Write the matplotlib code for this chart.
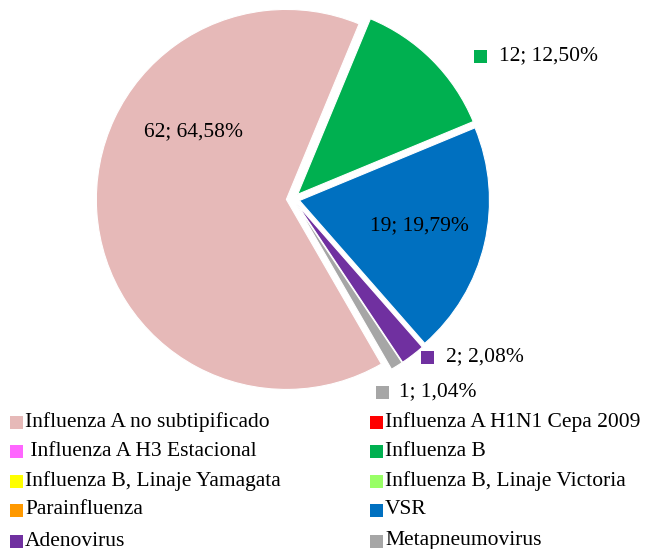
import matplotlib
matplotlib.use("Agg")
import matplotlib.pyplot as plt
from matplotlib.patches import Rectangle
from matplotlib.font_manager import FontProperties

categories = ["Influenza A no subtipificado", "Influenza A H1N1 Cepa 2009",
              " Influenza A H3 Estacional", "Influenza B",
              "Influenza B, Linaje Yamagata", "Influenza B, Linaje Victoria",
              "Parainfluenza", "VSR", "Adenovirus", "Metapneumovirus"]
values = [62, 0, 0, 12, 0, 0, 0, 19, 2, 1]
percent_labels = ["62; 64,58%", "", "", "12; 12,50%", "", "", "", "19; 19,79%", "2; 2,08%", "1; 1,04%"]
colors = ["#E6B9B8", "#FF0000", "#FF66FF", "#00B050", "#FFFF00",
          "#99FF66", "#FF9900", "#0070C0", "#7030A0", "#A6A6A6"]

W, H = 646, 549
fp_lab = FontProperties(family="Liberation Serif", size=15.5)
fp_leg = FontProperties(family="Liberation Serif", size=15.5)
fig = plt.figure(figsize=(W / 100, H / 100), dpi=100)

R = 190.0
cx, cy = 293.0, 199.0
half = 1.15
ax = fig.add_axes([(cx - R * half) / W, (H - cy - R * half) / H, 2 * R * half / W, 2 * R * half / H])

wedges, _ = ax.pie(values, colors=colors, startangle=-60, counterclock=False,
                   explode=[0.035] * len(values), radius=1.0,
                   wedgeprops=dict(edgecolor="white", linewidth=0.8))
for w, v in zip(wedges, values):
    if v == 0:
        w.set_visible(False)
ax.set_xlim(-half, half)
ax.set_ylim(-half, half)
ax.axis("off")

def px2data(px, py):
    return (px - cx) / R, (cy - py) / R

for idx, (px, py) in {0: (193, 132), 7: (419, 226)}.items():
    x, y = px2data(px, py)
    ax.text(x, y, percent_labels[idx], ha="center", va="center", fontproperties=fp_lab, color="black")

for idx, (sx, py, tx) in {3: (474, 56, 499), 8: (421, 357, 446), 9: (376, 392, 399)}.items():
    x0, y0 = px2data(sx, py + 6.5)
    ax.add_patch(Rectangle((x0, y0), 13 / R, 13 / R, facecolor=colors[idx], edgecolor="none", clip_on=False))
    x, y = px2data(tx, py)
    ax.text(x, y, percent_labels[idx], ha="left", va="center", fontproperties=fp_lab, color="black")

row_y = [422, 451, 481, 510, 541]
col_x = [10, 370]
for i, (cat, col) in enumerate(zip(categories, colors)):
    r, c = divmod(i, 2)
    mx = col_x[c]
    my = row_y[r]
    fig.add_artist(Rectangle((mx / W, (H - my - 6.5) / H), 13 / W, 13 / H,
                             transform=fig.transFigure, facecolor=col, edgecolor="none"))
    fig.text((mx + 15) / W, (H - my) / H, cat, ha="left", va="center",
             fontproperties=fp_leg, color="black")

fig.savefig("out.png", dpi=100)
